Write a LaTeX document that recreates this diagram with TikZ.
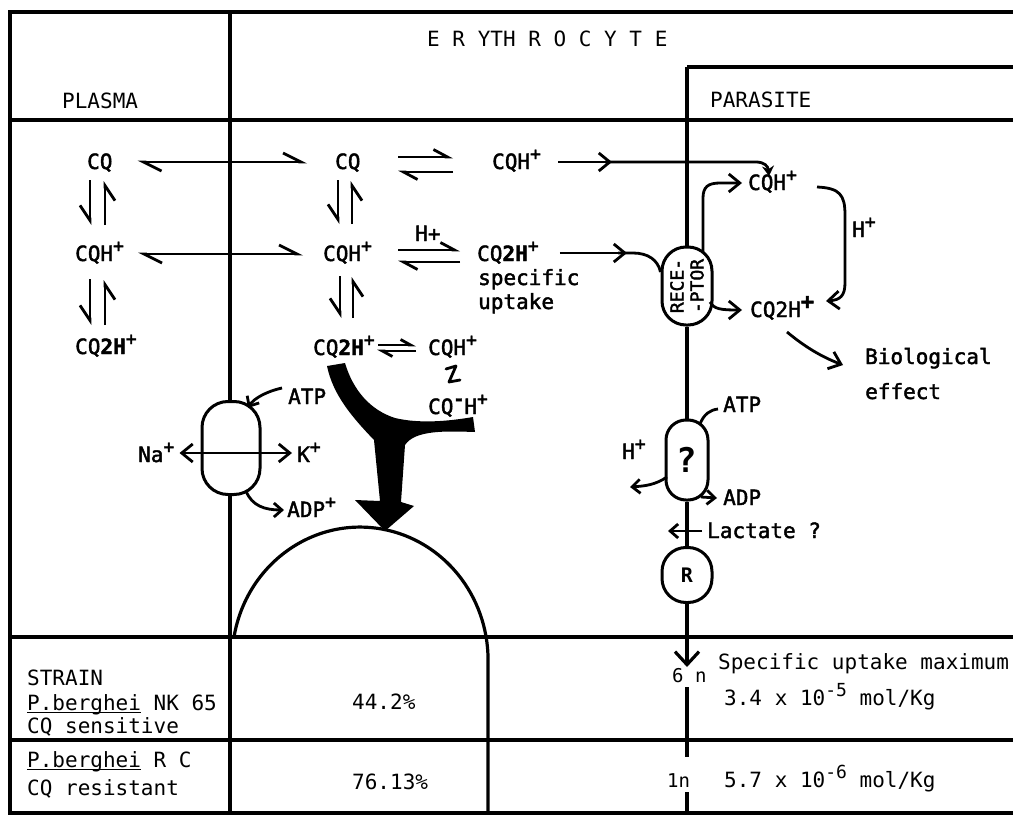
\documentclass[tikz,border=0pt]{standalone}
\usepackage{fontspec}
\setmainfont{DejaVu Sans Mono}
\newfontfamily\dfont[FakeBold=2]{DejaVu Sans Mono}
\usetikzlibrary{arrows.meta}
\newcommand\sps[1]{\raisebox{9pt}{\fontsize{18}{18}\selectfont #1}}
\newcommand\myul[1]{\setbox0\hbox{#1}\rlap{\rule[-3pt]{\wd0}{1.5pt}}\box0\relax}
\tikzset{
  frame/.style={line width=3.2pt},
  ar/.style={line width=2.8pt},
  txt/.style={anchor=base west, inner sep=0pt, font=\dfont\fontsize{21}{24}\selectfont},
  ttxt/.style={anchor=base west, inner sep=0pt, font=\fontsize{21}{24}\selectfont},
  capsule/.style={draw, line width=3pt, fill=white, rounded corners=20pt, inner sep=0pt},
  hpL/.tip={Straight Barb[harpoon,length=18pt,width=18pt]},
  eqh/.tip={Straight Barb[harpoon,length=14pt,width=15pt]},
  eqs/.tip={Straight Barb[harpoon,length=10pt,width=11pt]},
  vh/.tip={Straight Barb[harpoon,swap,length=15pt,width=20pt]},
  fb/.tip={Straight Barb[length=11pt,width=18pt]},
  sb/.tip={Straight Barb[length=8pt,width=14pt]},
}
\begin{document}
\begin{tikzpicture}[x=1pt,y=-1pt]
\useasboundingbox (0,0) rectangle (1013,816);
% frame
\draw[frame] (1013,12) -- (10,12) -- (10,813) -- (1013,813);
\draw[frame] (230,12) -- (230,813);
\draw[frame] (10,120) -- (1013,120);
\draw[frame] (1013,67) -- (687,67);
\draw[frame] (10,637) -- (1013,637);
\draw[frame] (10,740) -- (1013,740);
% dome
\draw[frame] (234,637) arc[start angle=170,end angle=0,x radius=128pt,y radius=133pt] -- (488,813);
% headers
\node[ttxt] (ery) at (427,47) {E R YTH R O C Y T E};
\node[ttxt] (plasma) at (62,109) {PLASMA};
\node[ttxt] (parasite) at (710,107) {PARASITE};
% row 1
\node[txt] (p1) at (87,169) {CQ};
\node[txt] (e1) at (335,169) {CQ};
\node[txt] (e1b) at (492,169) {CQH\sps{+}};
\node[txt] (x1) at (748,190) {CQH\sps{+}};
% row 2
\node[txt] (p2) at (75,261) {CQH\sps{+}};
\node[txt] (e2) at (323,261) {CQH\sps{+}};
\node[txt] (hplus) at (415,241) {H+};
\node[txt] (e2b) at (477,261) {CQ\textbf{2H}\sps{+}};
\node[txt] (spec) at (478,285) {specific};
\node[txt] (upt) at (478,309) {uptake};
% row 3
\node[txt] (p3) at (75,354) {CQ\textbf{2H}\sps{+}};
\node[txt] (e3) at (313,355) {CQ\textbf{2H}\sps{+}};
\node[txt] (e3b) at (428,355) {CQH\sps{+}};
\node[txt] (e3c) at (428,414) {CQ\sps{\bfseries -}H\sps{+}};
% parasite products
\node[txt] (x2) at (750,317) {CQ2H\raisebox{8pt}{\fontsize{22}{22}\selectfont\bfseries +}};
\node[txt] (hloop) at (852,237) {H\sps{+}};
\node[txt] (bio) at (865,364) {Biological};
\node[txt] (eff) at (865,399) {effect};
% long arrows
\draw[ar,{hpL}-{hpL}] ([xshift=25pt,yshift=7pt]p1.base east) -- ([xshift=-28pt,yshift=7pt]e1.base west);
\draw[ar,{hpL}-{hpL}] ([xshift=14pt,yshift=7pt]p2.base east) -- ([xshift=-20pt,yshift=7pt]e2.base west);
% equilibria
\draw[ar,-{eqh}] (398,157) -- ([xshift=-39pt,yshift=12pt]e1b.base west);
\draw[ar,-{eqh}] ([xshift=-39pt,yshift=-3pt]e1b.base west) -- (398,172);
\draw[ar,-{eqh}] (398,250) -- ([xshift=-17pt,yshift=11pt]e2b.base west);
\draw[ar,-{eqh}] ([xshift=-17pt,yshift=-1pt]e2b.base west) -- (398,262);
\draw[ar,-{eqs}] (378,345) -- ([xshift=-12pt,yshift=10pt]e3b.base west);
\draw[ar,-{eqs}] ([xshift=-12pt,yshift=4pt]e3b.base west) -- (377,351);
% vertical harpoons
\draw[ar,-{vh}] (90,180) -- (90,225);
\draw[ar,-{vh}] (105,225) -- (105,181);
\draw[ar,-{vh}] (90,279) -- (90,325);
\draw[ar,-{vh}] (105,325) -- (105,280);
\draw[ar,-{vh}] (338,180) -- (338,224);
\draw[ar,-{vh}] (352,224) -- (352,181);
\draw[ar,-{vh}] (340,276) -- (340,318);
\draw[ar,-{vh}] (353,318) -- (353,277);
% small equilibrium between CQH+ and CQ-H+
\draw[ar,line join=round,line cap=round] (446,369) -- (456,366) -- (449,382) -- (460,380);
% black arrow
\fill (327,366) -- (345,363) .. controls (353,390) and (370,410) .. (395,418)
  .. controls (420,424) and (450,421) .. (473,417) -- (475,432)
  .. controls (445,431) and (415,430) .. (405,445) -- (401,502) -- (414,506)
  -- (385,531) -- (355,500) -- (380,501) -- (374,440)
  .. controls (352,417) and (333,395) .. (327,366) -- cycle;
% to parasite
\draw[ar,-{fb}] ([xshift=17pt,yshift=7pt]e1b.base east) -- (612,162);
\draw[ar,-{Stealth[length=10pt,width=12pt]}] (605,162) -- (756,162) .. controls (764,162) and (768,166) .. (769,176);
% receptor
\node[capsule, rounded corners=24pt, minimum width=50pt, minimum height=78pt] (rec) at (687,286) {};
\node[font=\dfont\fontsize{18}{20}\selectfont, rotate=90, align=center, inner sep=0pt] (rectxt) at (rec.center) {RECE-\\-PTOR};
\draw[ar,-{fb}] ([xshift=21pt,yshift=8pt]e2b.base east) -- (627,253);
\draw[ar] (618,253) -- (633,253) .. controls (648,253) and (658,260) .. ([yshift=14pt]rec.west);
\draw[ar,-{fb}] (703,252) -- (703,198) .. controls (703,187) and (708,183) .. (720,183) -- ([xshift=-6pt,yshift=7pt]x1.base west);
\draw[ar,-{fb}] (710,302) .. controls (714,309) and (720,310) .. ([xshift=-8pt,yshift=7pt]x2.base west);
\draw[ar,-{fb}] (817,187) .. controls (840,188) and (845,195) .. (845,215) -- (845,283) .. controls (845,296) and (840,300) .. (826,301);
\draw[ar,-{fb}] (787,332) .. controls (805,347) and (822,357) .. (843,365);
% Na/K pump
\node[capsule, rounded corners=26pt, minimum width=58pt, minimum height=93pt] (pump) at (231,448) {};
\node[txt] (na) at (138,462) {Na\sps{+}};
\node[txt] (kp) at (297,462) {K\sps{+}};
\node[txt] (atp1) at (288,404) {ATP};
\node[txt] (adp1) at (287,517) {ADP\sps{+}};
\draw[ar,{fb}-{fb}] ([xshift=5pt,yshift=9pt]na.base east) -- ([xshift=-5pt,yshift=9pt]kp.base west);
\draw[ar,-{sb}] (282,388) .. controls (268,391) and (254,398) .. (248,408);
\draw[ar,-{sb}] (246,491) .. controls (252,506) and (265,510) .. (284,510);
% parasite membrane lower
\node[capsule, minimum width=42pt, minimum height=80pt] (qbox) at (687,460) {\fontsize{34}{34}\selectfont\bfseries ?};
\node[capsule, rounded corners=24pt, minimum width=50pt, minimum height=55pt, font=\fontsize{20}{20}\selectfont\bfseries] (rn) at (687,575) {R};
\draw[frame] (687,67) -- (rec.north);
\draw[frame] (rec.south) -- (qbox.north);
\draw[frame] (qbox.south) -- (rn.north);
\draw[frame,-{Straight Barb[length=13pt,width=24pt]}] (rn.south) -- (687,667);
\draw[frame] (687,687) -- (687,757);
\draw[frame] (687,792) -- (687,813);
\node[txt] (atp2) at (723,412) {ATP};
\node[txt] (hq) at (622,459) {H\sps{+}};
\node[txt] (adp2) at (723,505) {ADP};
\node[txt] (lac) at (707,538) {Lactate ?};
\draw[ar] (700,424) .. controls (704,414) and (710,410) .. (718,409);
\draw[ar,-{sb}] (667,477) .. controls (655,485) and (645,486) .. (630,487);
\draw[ar,-{sb}] (701,497) -- (717,498);
\draw[ar,-{sb}] (702,531) -- (668,531);
% table
\node[ttxt] (strain) at (27,685) {STRAIN};
\node[ttxt] (nk) at (27,710) {\myul{P.berghei} NK 65};
\node[ttxt] (sens) at (27,733) {CQ sensitive};
\node[ttxt] (pc1) at (352,709) {44.2\%};
\node[ttxt] (rc) at (27,767) {\myul{P.berghei} R C};
\node[ttxt] (res) at (27,795) {CQ resistant};
\node[ttxt] (pc2) at (352,789) {76.13\%};
\node[ttxt, font=\fontsize{19}{20}\selectfont] (six) at (672,682) {6 n};
\node[ttxt, font=\fontsize{19}{20}\selectfont] (one) at (667,787) {1n};
\node[ttxt] (sum) at (718,669) {Specific uptake maximum};
\node[ttxt] (v1) at (724,705) {3.4 x 10\sps{-5} mol/Kg};
\node[ttxt] (v2) at (724,787) {5.7 x 10\sps{-6} mol/Kg};
\end{tikzpicture}
\end{document}
